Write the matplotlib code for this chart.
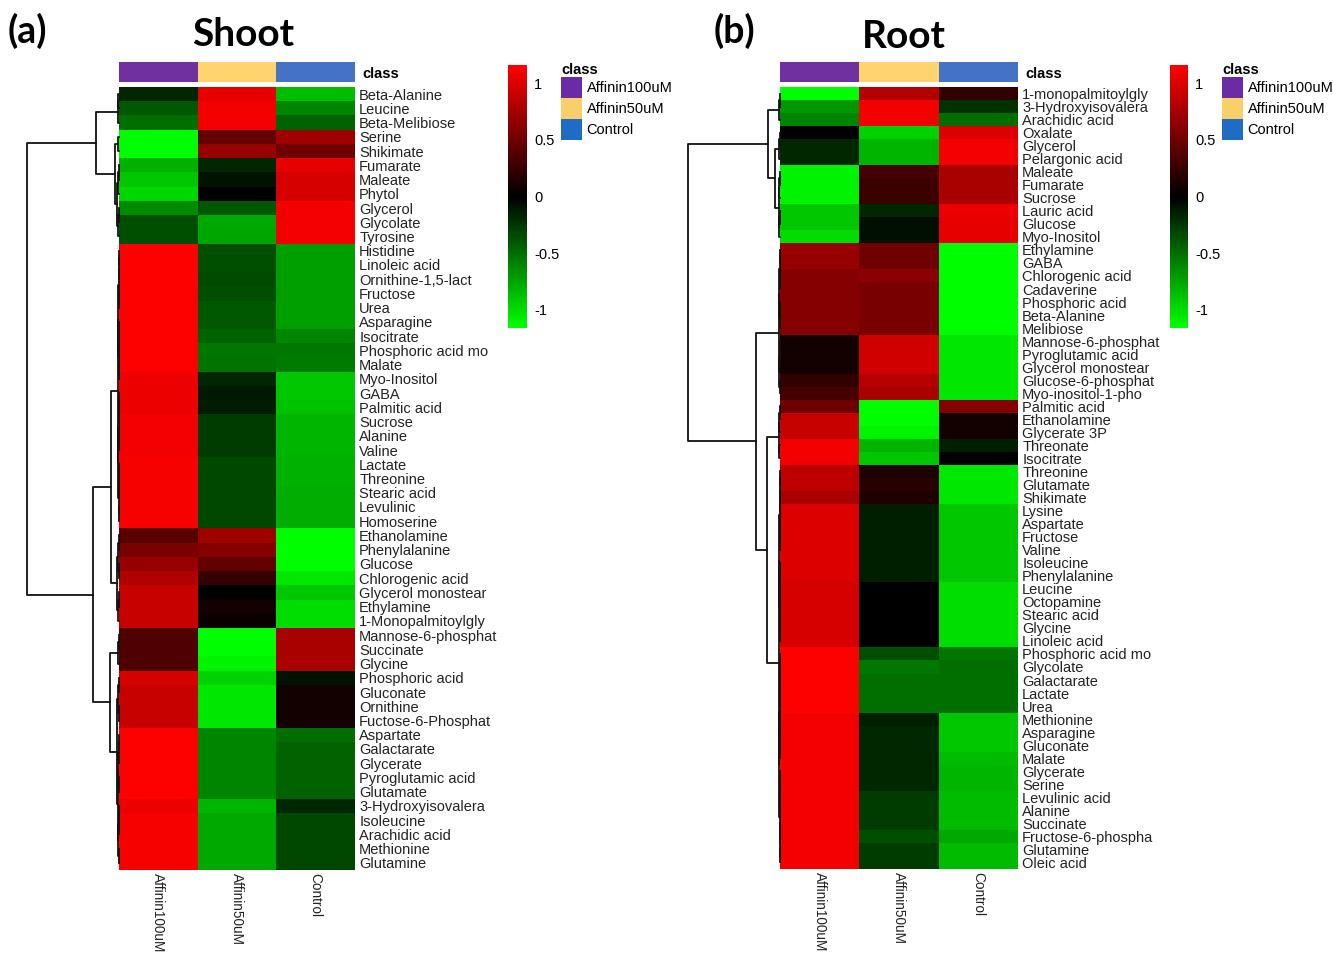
import numpy as np
import matplotlib
matplotlib.use("Agg")
import matplotlib.pyplot as plt
from matplotlib.colors import LinearSegmentedColormap, ListedColormap, Normalize
from matplotlib.cm import ScalarMappable
from matplotlib.patches import Patch

W, H = 1333, 956

groups = ["Affinin100uM", "Affinin50uM", "Control"]
class_colors = ["#7030A0", "#FFD36E", "#4472C4"]
legend_colors = ["#6A2CA6", "#F8D06A", "#1F6BC6"]

# ---- Shoot data (row z-scores) ----
shoot_names = ["Beta-Alanine", "Leucine", "Beta-Melibiose", "Serine", "Shikimate",
               "Fumarate", "Maleate", "Phytol", "Glycerol", "Glycolate", "Tyrosine",
               "Histidine", "Linoleic acid", "Ornithine-1,5-lact", "Fructose", "Urea",
               "Asparagine", "Isocitrate", "Phosphoric acid mo", "Malate", "Myo-Inositol",
               "GABA", "Palmitic acid", "Sucrose", "Alanine", "Valine", "Lactate",
               "Threonine", "Stearic acid", "Levulinic", "Homoserine", "Ethanolamine",
               "Phenylalanine", "Glucose", "Chlorogenic acid", "Glycerol monostear",
               "Ethylamine", "1-Monopalmitoylgly", "Mannose-6-phosphat", "Succinate",
               "Glycine", "Phosphoric acid", "Gluconate", "Ornithine", "Fuctose-6-Phosphat",
               "Aspartate", "Galactarate", "Glycerate", "Pyroglutamic acid", "Glutamate",
               "3-Hydroxyisovalera", "Isoleucine", "Arachidic acid", "Methionine", "Glutamine"]
shoot_a100 = [-0.18, -0.40, -0.50, -1.15, -1.15, -0.80, -0.90, -0.97, -0.63, -0.36, -0.36,
              1.15, 1.15, 1.15, 1.15, 1.15, 1.15, 1.15, 1.15, 1.15, 1.07,
              1.07, 1.07, 1.10, 1.10, 1.10, 1.12, 1.12, 1.12, 1.12, 1.12,
              0.40, 0.55, 0.68, 0.80, 0.90, 0.90, 0.90, 0.36, 0.36, 0.36,
              0.97, 0.90, 0.90, 0.90, 1.15, 1.15, 1.15, 1.15, 1.15,
              1.07, 1.12, 1.12, 1.12, 1.12]
shoot_a50 = [1.05, 1.10, 1.10, 0.45, 0.68, -0.18, -0.09, 0.00, -0.40, -0.77, -0.75,
             -0.36, -0.36, -0.34, -0.36, -0.40, -0.40, -0.45, -0.54, -0.52, -0.18,
             -0.11, -0.13, -0.27, -0.27, -0.27, -0.32, -0.32, -0.32, -0.32, -0.32,
             0.72, 0.60, 0.45, 0.25, 0.00, 0.09, 0.05, -1.15, -1.15, -1.10,
             -0.95, -1.05, -1.05, -1.05, -0.60, -0.60, -0.60, -0.60, -0.60,
             -0.82, -0.77, -0.77, -0.77, -0.77]
shoot_ctrl = [-0.86, -0.60, -0.45, 0.72, 0.50, 1.05, 0.97, 0.97, 1.10, 1.10, 1.10,
              -0.72, -0.72, -0.72, -0.72, -0.72, -0.72, -0.60, -0.54, -0.56, -0.90,
              -0.90, -0.88, -0.82, -0.82, -0.82, -0.80, -0.80, -0.78, -0.78, -0.78,
              -1.15, -1.15, -1.15, -1.05, -0.90, -1.00, -1.00, 0.77, 0.77, 0.77,
              -0.09, 0.09, 0.09, 0.09, -0.50, -0.45, -0.45, -0.45, -0.45,
              -0.18, -0.32, -0.32, -0.32, -0.32]

# ---- Root data ----
root_names = ["1-monopalmitoylgly", "3-Hydroxyisovalera", "Arachidic acid", "Oxalate",
              "Glycerol", "Pelargonic acid", "Maleate", "Fumarate", "Sucrose", "Lauric acid",
              "Glucose", "Myo-Inositol", "Ethylamine", "GABA", "Chlorogenic acid",
              "Cadaverine", "Phosphoric acid", "Beta-Alanine", "Melibiose",
              "Mannose-6-phosphat", "Pyroglutamic acid", "Glycerol monostear",
              "Glucose-6-phosphat", "Myo-inositol-1-pho", "Palmitic acid", "Ethanolamine",
              "Glycerate 3P", "Threonate", "Isocitrate", "Threonine", "Glutamate",
              "Shikimate", "Lysine", "Aspartate", "Fructose", "Valine", "Isoleucine",
              "Phenylalanine", "Leucine", "Octopamine", "Stearic acid", "Glycine",
              "Linoleic acid", "Phosphoric acid mo", "Glycolate", "Galactarate", "Lactate",
              "Urea", "Methionine", "Asparagine", "Gluconate", "Malate", "Glycerate",
              "Serine", "Levulinic acid", "Alanine", "Succinate", "Fructose-6-phospha",
              "Glutamine", "Oleic acid"]
root_a100 = [-1.15, -0.68, -0.60, 0.00, -0.18, -0.18, -1.10, -1.10, -1.10, -0.90,
             -0.90, -1.00, 0.68, 0.68, 0.60, 0.60, 0.60, 0.60, 0.60,
             0.09, 0.09, 0.09, 0.22, 0.32, 0.50, 0.90, 0.90, 1.10, 1.10,
             0.86, 0.86, 0.77, 1.00, 1.00, 1.00, 1.00, 1.00, 1.00,
             0.97, 0.97, 0.97, 0.97, 0.97, 1.15, 1.15, 1.15, 1.15, 1.15,
             1.10, 1.10, 1.10, 1.10, 1.10, 1.10, 1.10, 1.10, 1.10, 1.10, 1.10, 1.10]
root_a50 = [0.82, 1.10, 1.10, -0.95, -0.82, -0.82, 0.32, 0.27, 0.27, -0.18,
            -0.07, -0.07, 0.50, 0.50, 0.63, 0.55, 0.55, 0.55, 0.55,
            0.95, 0.95, 0.95, 0.82, 0.77, -1.15, -1.15, -1.10, -0.82, -0.90,
            0.14, 0.18, 0.14, -0.14, -0.14, -0.14, -0.14, -0.14, -0.14,
            0.00, 0.00, 0.00, 0.00, 0.00, -0.36, -0.54, -0.50, -0.50, -0.50,
            -0.14, -0.18, -0.18, -0.18, -0.18, -0.18, -0.27, -0.27, -0.27, -0.36, -0.27, -0.27]
root_ctrl = [0.22, -0.22, -0.50, 1.00, 1.10, 1.10, 0.77, 0.77, 0.77, 1.08,
             1.05, 1.05, -1.15, -1.15, -1.15, -1.15, -1.15, -1.15, -1.15,
             -1.05, -1.05, -1.05, -1.05, -1.05, 0.60, 0.09, 0.09, -0.14, 0.00,
             -1.05, -1.05, -1.05, -0.90, -0.90, -0.90, -0.90, -0.90, -0.90,
             -1.00, -1.00, -1.00, -1.00, -1.00, -0.54, -0.50, -0.50, -0.50, -0.50,
             -0.90, -0.90, -0.90, -0.85, -0.82, -0.82, -0.85, -0.85, -0.85, -0.77, -0.85, -0.85]


def grp(a, b, h):
    # small cluster of neighbouring rows merged close to the leaves
    if a == b:
        return a
    m = (a + b) // 2
    return [h, grp(a, m, h * 0.5), grp(m + 1, b, h * 0.5)]


# row dendrograms: [height, left, right], leaves are row indices
shoot_tree = [1.0,
              [0.25, grp(0, 2, 0.012), [0.043, grp(3, 4, 0.008), grp(5, 10, 0.02)]],
              [0.28, [0.087, grp(11, 30, 0.015), grp(31, 37, 0.02)],
               [0.098, grp(38, 40, 0.008), [0.022, grp(41, 44, 0.01), grp(45, 54, 0.012)]]]]
root_tree = [1.0,
             [0.13, grp(0, 2, 0.01), [0.054, grp(3, 5, 0.01), grp(6, 11, 0.015)]],
             [0.26, [0.012, grp(12, 18, 0.006), grp(19, 23, 0.006)],
              [0.14, grp(24, 28, 0.015), [0.012, grp(29, 42, 0.008), grp(43, 59, 0.01)]]]]

cmap = LinearSegmentedColormap.from_list("gbr", ["#00FF00", "#000000", "#FF0000"])
norm = Normalize(vmin=-1.16, vmax=1.16)
LABEL_FONT = "Liberation Sans"
FS = 10.5


def box(x0, y0, x1, y1):
    return [x0 / W, 1 - y1 / H, (x1 - x0) / W, (y1 - y0) / H]


def draw_tree(ax, node):
    if isinstance(node, int):
        return node + 0.5, 0.0
    h, left, right = node
    y1, h1 = draw_tree(ax, left)
    y2, h2 = draw_tree(ax, right)
    ax.plot([h1, h, h, h2], [y1, y1, y2, y2], color="#111111", lw=1.3, clip_on=False)
    return (y1 + y2) / 2, h


def draw_panel(fig, names, cols, tree, heat_px, dendro_x0, cbar_px, legend_px,
               title, title_px, tag, tag_px):
    data = np.column_stack(cols)
    n = len(names)
    x0, y0, x1, y1 = heat_px

    ax = fig.add_axes(box(*heat_px))
    ax.pcolormesh(np.arange(4), np.arange(n + 1), data, cmap=cmap, norm=norm)
    ax.set_xlim(0, 3)
    ax.set_ylim(n, 0)
    ax.yaxis.tick_right()
    ax.set_yticks(np.arange(n) + 0.5)
    ax.set_yticklabels(names, fontsize=FS, family=LABEL_FONT, color="#222222")
    ax.set_xticks(np.arange(3) + 0.5)
    ax.set_xticklabels(groups, rotation=270, fontsize=9.8, family=LABEL_FONT,
                       color="#222222", va="top", ha="center")
    ax.tick_params(axis="y", length=0, pad=3)
    ax.tick_params(axis="x", length=0, pad=2)
    for s in ax.spines.values():
        s.set_visible(False)

    # class bar on top
    cax = fig.add_axes(box(x0, 62, x1, 82))
    cax.pcolormesh([[0, 1, 2]], cmap=ListedColormap(class_colors), vmin=0, vmax=2)
    cax.set_xticks([])
    cax.yaxis.tick_right()
    cax.set_yticks([0.5])
    cax.set_yticklabels(["class"], fontsize=FS, family=LABEL_FONT, fontweight="bold")
    cax.tick_params(length=0, pad=5)
    for s in cax.spines.values():
        s.set_visible(False)

    # row dendrogram
    dax = fig.add_axes(box(dendro_x0, y0, x0, y1))
    draw_tree(dax, tree)
    dax.set_xlim(tree[0], 0)
    dax.set_ylim(n, 0)
    dax.axis("off")

    # colour key
    kax = fig.add_axes(box(*cbar_px))
    cb = fig.colorbar(ScalarMappable(norm=norm, cmap=cmap), cax=kax,
                      ticks=[-1, -0.5, 0, 0.5, 1])
    cb.ax.set_yticklabels(["-1", "-0.5", "0", "0.5", "1"], fontsize=FS, family=LABEL_FONT)
    cb.ax.tick_params(length=0, pad=5)
    cb.outline.set_visible(False)

    handles = [Patch(facecolor=c, edgecolor="none") for c in legend_colors]
    fig.legend(handles, groups, loc="upper left",
               bbox_to_anchor=(legend_px[0] / W, 1 - legend_px[1] / H),
               frameon=False, title="class", alignment="left",
               title_fontproperties={"weight": "bold", "size": FS, "family": LABEL_FONT},
               prop={"size": FS, "family": LABEL_FONT},
               handlelength=1.45, handleheight=1.85, handletextpad=0.3,
               labelspacing=0.0, borderpad=0, borderaxespad=0)

    fig.text(title_px[0] / W, 1 - title_px[1] / H, title, fontsize=28,
             fontweight="bold", family="Lato", ha="center", va="center")
    fig.text(tag_px[0] / W, 1 - tag_px[1] / H, tag, fontsize=27,
             fontweight="bold", family="Lato", ha="left", va="center")


fig = plt.figure(figsize=(W / 100, H / 100), dpi=100)

draw_panel(fig, shoot_names, [shoot_a100, shoot_a50, shoot_ctrl], shoot_tree,
           (119, 87, 355, 870), 27, (508, 65, 527, 328), (561, 63),
           "Shoot", (243, 35), "(a)", (8, 31))
draw_panel(fig, root_names, [root_a100, root_a50, root_ctrl], root_tree,
           (780, 87, 1018, 869), 688, (1170, 65, 1188, 328), (1222, 63),
           "Root", (904, 36), "(b)", (714, 31))

fig.savefig("out.png", dpi=100)
